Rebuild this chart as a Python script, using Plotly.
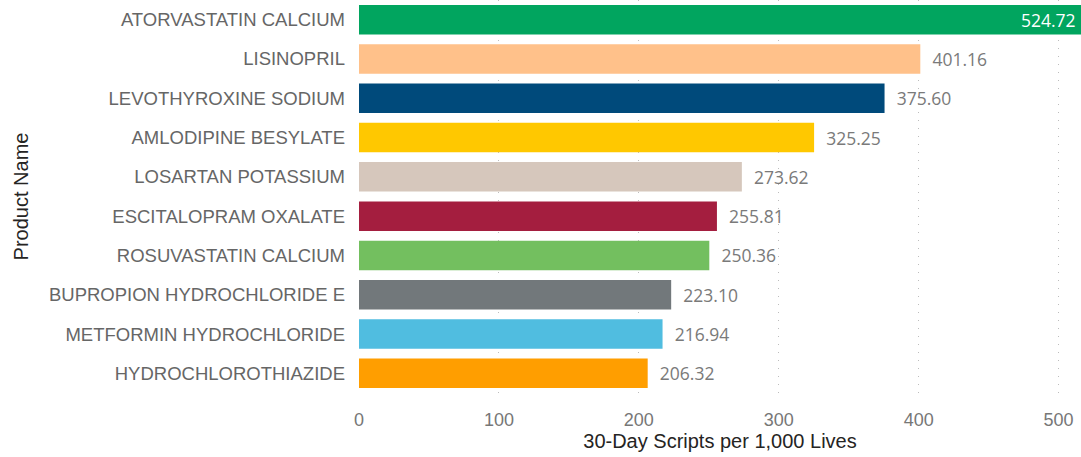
import plotly.graph_objects as go

products = ["ATORVASTATIN CALCIUM", "LISINOPRIL", "LEVOTHYROXINE SODIUM", "AMLODIPINE BESYLATE",
            "LOSARTAN POTASSIUM", "ESCITALOPRAM OXALATE", "ROSUVASTATIN CALCIUM",
            "BUPROPION HYDROCHLORIDE E", "METFORMIN HYDROCHLORIDE", "HYDROCHLOROTHIAZIDE"]
values = [524.72, 401.16, 375.60, 325.25, 273.62, 255.81, 250.36, 223.10, 216.94, 206.32]
colors = ["#01A55F", "#FFC18A", "#004A7B", "#FFC800", "#D6C7BC",
          "#A41E3F", "#73BF5F", "#72787B", "#50BDE0", "#FF9E00"]
x_ticks = [0, 100, 200, 300, 400, 500]
x_max = 516

# bars that run past the axis end get their label inside (as an annotation at the plot edge)
outside_text = ["" if v > x_max else f"{v:.2f}" for v in values]

fig = go.Figure(go.Bar(
    x=values, y=products, orientation="h",
    marker=dict(color=colors, line=dict(width=0)),
    width=0.75,
    text=outside_text,
    texttemplate="  %{text}",
    textposition="outside",
    textfont=dict(family="Open Sans, Noto Sans", size=17.5, color="#7A7A7A"),
    cliponaxis=True,
    hoverinfo="skip",
))

for p, v in zip(products, values):
    if v > x_max:
        fig.add_annotation(x=1, xref="paper", y=p, yref="y", text=f"{v:.2f}",
                           xanchor="right", showarrow=False, xshift=-3,
                           font=dict(family="Open Sans, Noto Sans", size=17.5, color="white"))

fig.update_layout(
    width=1081, height=457,
    margin=dict(l=359, r=0, t=0, b=64),
    paper_bgcolor="white", plot_bgcolor="white",
    showlegend=False,
    xaxis=dict(
        range=[0, x_max], tickvals=x_ticks, ticktext=[str(t) for t in x_ticks],
        showgrid=True, gridcolor="#BDBDBD", griddash="1px,7px", gridwidth=1,
        zeroline=False, showline=False,
        tickfont=dict(family="Liberation Sans, Arial", size=18, color="#777777"),
        ticks="", ticklen=0, ticklabelstandoff=14,
        title=dict(text="30-Day Scripts per 1,000 Lives", standoff=4,
                   font=dict(family="Liberation Sans, Arial", size=20, color="#252423")),
    ),
    yaxis=dict(
        categoryorder="array", categoryarray=products, autorange="reversed",
        showgrid=False, zeroline=False, showline=False, ticks="",
        ticklabelstandoff=13,
        tickfont=dict(family="Liberation Sans, Arial", size=18.5, color="#666666"),
        title=dict(text="Product Name", standoff=14,
                   font=dict(family="Liberation Sans, Arial", size=20, color="#252423")),
    ),
)

fig.write_html("out.html")
